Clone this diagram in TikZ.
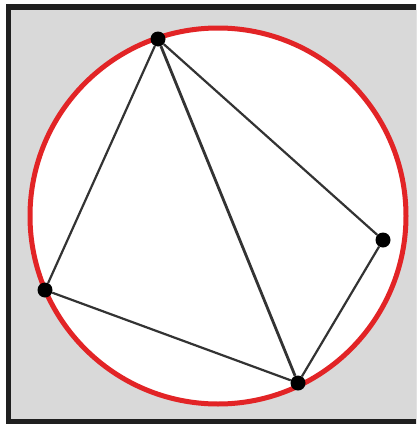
\documentclass[tikz,border=0pt]{standalone}
\begin{document}
\begin{tikzpicture}[x=1pt,y=-1pt,
  dot/.style={circle,fill=black,inner sep=0pt,minimum size=15pt},
  edge/.style={draw=black!80,line width=2.2pt},
  ring/.style={draw={rgb,255:red,226;green,36;blue,38},line width=5pt,fill=white}]
\useasboundingbox (0,0) rectangle (416,426);
\begin{scope}
\clip (0,0) rectangle (416,426);
\fill[white] (0,0) rectangle (416,426);
\fill[black!88] (6,4) rectangle (420,424);
\fill[black!15] (11,9.5) rectangle (420,419);
\end{scope}
\path[ring] (218,216) circle (188);
\node[dot] (t) at (158,39) {};
\node[dot] (r) at (383,240) {};
\node[dot] (b) at (298,383) {};
\node[dot] (l) at (45,290) {};
\draw[edge] (t) -- (l);
\draw[edge] (l) -- (b);
\draw[edge] (b) -- (r);
\draw[edge] (r) -- (t);
\draw[edge,line width=2.8pt] (t) -- (b);
\end{tikzpicture}
\end{document}
